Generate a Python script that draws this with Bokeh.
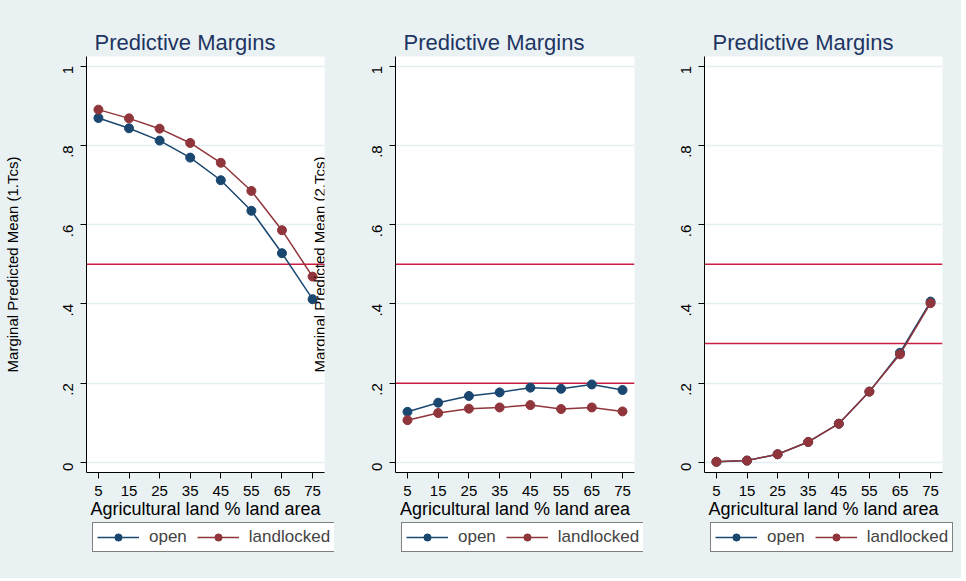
import math
from bokeh.plotting import figure
from bokeh.models import Range1d, FixedTicker, Span, Label, Legend, LegendItem
from bokeh.layouts import row, column
from bokeh.embed import file_html
from bokeh.resources import INLINE

# ---- data ----
agri = [5, 15, 25, 35, 45, 55, 65, 75]
p1_open = [0.869, 0.843, 0.812, 0.769, 0.712, 0.635, 0.528, 0.412]
p1_land = [0.890, 0.868, 0.842, 0.806, 0.756, 0.685, 0.586, 0.469]
p2_open = [0.128, 0.151, 0.168, 0.177, 0.189, 0.186, 0.197, 0.183]
p2_land = [0.107, 0.125, 0.136, 0.139, 0.145, 0.135, 0.139, 0.129]
p3_open = [0.002, 0.005, 0.021, 0.052, 0.098, 0.179, 0.277, 0.406]
p3_land = [0.002, 0.005, 0.021, 0.052, 0.098, 0.179, 0.273, 0.402]
ref_lines = [[0.5], [0.5, 0.2], [0.5, 0.3]]
y_ticks = [0, 0.2, 0.4, 0.6, 0.8, 1]
y_tick_labels = ["0", ".2", ".4", ".6", ".8", "1"]
series_names = ["open", "landlocked"]
title_text = "Predictive Margins"
x_title = "Agricultural land % land area"
y_title_1 = "Marginal Predicted Mean (1.Tcs)"
y_title_2 = "Marginal Predicted Mean (2.Tcs)"

BG = "#e9f1f3"
NAVY = "#1a476f"
MAROON = "#90353b"
REF = "#c91d42"
TITLE_C = "#1e3461"
FONT = "Liberation Sans"
TOP = 56
FRAME_H = 416
BOTTOM = 50
H_UP = TOP + FRAME_H + BOTTOM
H_LEG = 56


def make_panel(open_vals, land_vals, refs, width, left, right, ylabel=None):
    p = figure(width=width, height=H_UP, x_range=Range1d(1.1, 78.9),
               y_range=Range1d(-0.025, 1.024), output_backend="svg",
               toolbar_location=None, min_border_left=left, min_border_right=right,
               min_border_top=TOP, min_border_bottom=BOTTOM,
               background_fill_color="white", border_fill_color=BG,
               outline_line_color=None)
    p.title.text = title_text
    p.title.text_font = FONT
    p.title.text_font_size = "22px"
    p.title.text_font_style = "normal"
    p.title.text_color = TITLE_C
    p.title.align = "left"
    p.title.offset = 8
    p.title.standoff = 4

    p.xgrid.visible = False
    p.ygrid.grid_line_color = "#e4eef0"
    p.ygrid.grid_line_width = 1.5

    for ax in (p.xaxis[0], p.yaxis[0]):
        ax.axis_line_color = "black"
        ax.major_tick_line_color = "black"
        ax.minor_tick_line_color = None
        ax.major_tick_in = 0
        ax.major_tick_out = 6
        ax.major_label_text_font = FONT
        ax.major_label_text_font_size = "15px"
        ax.major_label_text_color = "black"
        ax.axis_label_text_font = FONT
        ax.axis_label_text_font_style = "normal"
        ax.axis_label_text_color = "black"

    p.xaxis.ticker = FixedTicker(ticks=agri)
    p.xaxis.major_label_standoff = 7
    p.xaxis.axis_label = x_title
    p.xaxis.axis_label_text_font_size = "18px"
    p.xaxis.axis_label_standoff = 0

    p.yaxis.ticker = FixedTicker(ticks=y_ticks)
    p.yaxis.major_label_overrides = dict(zip(y_ticks, y_tick_labels))
    p.yaxis.major_label_orientation = math.pi / 2
    p.yaxis.major_label_standoff = 12
    if ylabel:
        p.yaxis.axis_label = ylabel
        p.yaxis.axis_label_text_font_size = "15px"
        p.yaxis.axis_label_standoff = 35

    for v in refs:
        p.add_layout(Span(location=v, dimension="width", line_color=REF,
                          line_width=1.5, level="underlay"))

    p.line(agri, open_vals, line_color=NAVY, line_width=1.5)
    p.scatter(agri, open_vals, size=9, fill_color=NAVY, line_color=NAVY)
    p.line(agri, land_vals, line_color=MAROON, line_width=1.5)
    p.scatter(agri, land_vals, size=9, fill_color=MAROON, line_color=MAROON)
    return p


def make_legend_strip(open_vals, land_vals, width, lx):
    # strip below each panel that holds its legend box
    g = figure(width=width, height=H_LEG, x_range=Range1d(-2, -1),
               y_range=Range1d(-2, -1), output_backend="svg",
               toolbar_location=None, x_axis_type=None, y_axis_type=None,
               min_border=0, background_fill_color=BG, border_fill_color=BG,
               outline_line_color=None)
    g.xgrid.visible = False
    g.ygrid.visible = False
    lo = g.line(agri, open_vals, line_color=NAVY, line_width=1.5)
    so = g.scatter(agri, open_vals, size=9, fill_color=NAVY, line_color=NAVY)
    ll = g.line(agri, land_vals, line_color=MAROON, line_width=1.5)
    sl = g.scatter(agri, land_vals, size=9, fill_color=MAROON, line_color=MAROON)
    legend = Legend(items=[LegendItem(label=series_names[0], renderers=[lo, so]),
                           LegendItem(label=series_names[1], renderers=[ll, sl])],
                    orientation="horizontal", location=(lx, 26),
                    border_line_color="black", border_line_width=1,
                    background_fill_color="white", background_fill_alpha=1,
                    label_text_font=FONT, label_text_font_size="17px",
                    glyph_width=42, glyph_height=18, label_height=18,
                    label_standoff=10, spacing=10, padding=4, margin=0)
    g.add_layout(legend, "center")
    return g


f1 = make_panel(p1_open, p1_land, ref_lines[0], 334, 86, 10, y_title_1)
f1.add_layout(Label(x=233, y=FRAME_H / 2, x_units="screen", y_units="screen",
                    text=y_title_2, angle=math.pi / 2, text_align="center",
                    text_baseline="middle", text_font=FONT,
                    text_font_size="15px", text_color="black"))
f2 = make_panel(p2_open, p2_land, ref_lines[1], 309, 61, 9)
f3 = make_panel(p3_open, p3_land, ref_lines[2], 318, 61, 19)

g1 = make_legend_strip(p1_open, p1_land, 334, 92)
g2 = make_legend_strip(p2_open, p2_land, 309, 67)
g3 = make_legend_strip(p3_open, p3_land, 318, 67)

bg_style = {"background-color": BG}
layout = column(row(f1, f2, f3, spacing=0, styles=bg_style),
                row(g1, g2, g3, spacing=0, styles=bg_style),
                spacing=0, styles=bg_style)
open("out.html", "w").write(file_html(layout, INLINE))
